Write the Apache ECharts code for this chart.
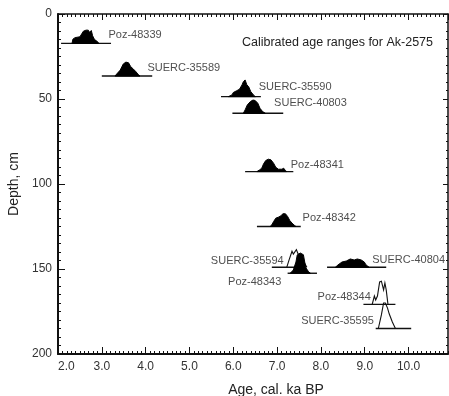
<!DOCTYPE html>
<html>
<head>
<meta charset="utf-8">
<script src="https://cdn.jsdelivr.net/npm/echarts@6/dist/echarts.min.js"></script>
<style>html,body{margin:0;padding:0;background:#fff}#c{width:449px;height:396px}</style>
</head>
<body>
<div id="c"></div>
<script>
// ---- data ----
const sampleNames = ['Poz-48339','SUERC-35589','SUERC-35590','SUERC-40803','Poz-48341','Poz-48342','SUERC-35594','Poz-48343','SUERC-40804','Poz-48344','SUERC-35595'];
const sampleDepths = [17.3, 36.5, 48.6, 58.4, 92.7, 125.0, 149.0, 152.5, 149.0, 170.8, 185.0];
const rangeStart = [2.07, 3.00, 5.72, 5.98, 6.27, 6.54, 6.88, 7.24, 8.14, 8.97, 9.25];
const rangeEnd   = [3.21, 4.15, 6.63, 7.14, 7.37, 7.54, 7.60, 7.91, 9.49, 9.70, 10.06];
const distAges = [
  [2.32,2.34,2.39,2.50,2.58,2.64,2.69,2.72,2.76,2.79,2.83,2.91,2.93],
  [3.30,3.34,3.42,3.49,3.55,3.61,3.66,3.72,3.78,3.84,3.87],
  [5.89,5.97,6.00,6.08,6.14,6.20,6.23,6.27,6.31,6.35,6.40,6.46,6.50],
  [6.23,6.27,6.32,6.39,6.45,6.50,6.56,6.61,6.67,6.73],
  [6.54,6.60,6.65,6.69,6.74,6.80,6.86,6.92,6.97,7.03,7.11,7.15,7.19,7.22],
  [6.84,6.88,6.92,6.97,7.03,7.09,7.13,7.19,7.24,7.29,7.34,7.39,7.43],
  [7.22,7.27,7.34,7.37,7.44,7.48,7.54,7.61,7.68],
  [7.30,7.37,7.43,7.46,7.53,7.60,7.63,7.66,7.72,7.76],
  [8.33,8.39,8.48,8.58,8.67,8.76,8.83,8.92,8.99,9.03,9.10],
  [9.17,9.22,9.25,9.29,9.34,9.38,9.43,9.46,9.49,9.53],
  [9.31,9.38,9.43,9.47,9.52,9.56,9.63,9.70]
];
const distHeights = [
  [0,2.5,3.4,3.9,7.2,7.8,7.8,6.5,7.6,4.5,2.4,0.8,0],
  [0,1.2,3.5,7.1,8.2,7.8,5.5,4.1,2.5,0.6,0],
  [0,1.0,2.4,3.5,4.3,6.9,8.8,9.8,6.9,5.9,2.9,1.0,0],
  [0,2.0,4.9,6.9,7.8,7.5,5.9,2.9,1.0,0],
  [0,1.0,2.0,4.5,6.5,7.3,6.9,4.9,2.5,1.4,1.4,2.0,0.6,0],
  [0,1.0,2.9,4.9,5.5,6.3,7.5,7.5,5.9,3.5,2.0,0.8,0],
  [0,4.1,9.4,7.8,10.4,7.8,6.6,3.1,0],
  [0,1.9,6.6,10.8,11.9,10.9,6.6,3.1,0.8,0],
  [0,1.4,3.1,3.7,4.9,4.3,4.9,4.3,3.1,1.4,0],
  [0,4.9,2.6,4.9,13.2,13.6,8.5,12.6,8.5,0],
  [0,8,15,15,12,8.5,3.8,0]
];
const sampleFilled = [true,true,true,true,true,true,false,true,true,false,false];
const xTicks = [2,3,4,5,6,7,8,9,10];
const yTicks = [0,50,100,150,200];
const titleText = 'Calibrated age ranges for Ak-2575';

// ---- layout (label anchors in data coordinates) ----
const labelAnchors = [
  [3.14,12.4,'right'],[4.03,31.6,'right'],[6.57,42.8,'right'],[6.92,52.5,'right'],
  [7.30,88.8,'right'],[7.57,120.2,'right'],[7.16,145.0,'left'],[5.87,157.8,'right'],
  [9.16,144.7,'right'],[9.15,166.6,'left'],[9.22,180.8,'left']
];

const FONT = '"Liberation Sans", Arial, Helvetica, sans-serif';
const chart = echarts.init(document.getElementById('c'), null, {renderer:'canvas'});
const X_MAX = 10.9;

function xAx(extra){
  return Object.assign({
    type:'value', min:xTicks[0], max:X_MAX, interval:1,
    splitLine:{show:false}, minorSplitLine:{show:false}, minorTick:{show:false}
  }, extra);
}
function yAx(extra){
  return Object.assign({
    type:'value', inverse:true, min:yTicks[0], max:yTicks[yTicks.length-1], interval:50,
    splitLine:{show:false}, minorSplitLine:{show:false}, minorTick:{show:false}
  }, extra);
}
const minorX = (pos, len) => xAx({
  position:pos, interval:0.1,
  axisLine:{show:false, onZero:false},
  axisTick:{show:true, inside:true, length:len, lineStyle:{color:'#111', width:1}},
  axisLabel:{show:false}
});
const minorY = (pos, len) => yAx({
  position:pos, interval:5,
  axisLine:{show:false, onZero:false},
  axisTick:{show:true, inside:true, length:len, lineStyle:{color:'#111', width:1}},
  axisLabel:{show:false}
});

const option = {
  animation:false,
  backgroundColor:'#fff',
  textStyle:{fontFamily:FONT},
  title:{
    text:titleText, right:11, top:31,
    textStyle:{fontSize:12.5, fontWeight:'normal', color:'#222', fontFamily:FONT}
  },
  grid:{left:58, top:14, right:1, bottom:42, containLabel:false, outerBoundsMode:'none'},
  xAxis:[
    xAx({
      position:'bottom', name:'Age, cal. ka BP', nameLocation:'middle', nameGap:29,
      nameTextStyle:{fontSize:14, color:'#222', fontFamily:FONT, padding:[0,0,0,46]},
      axisLine:{show:true, onZero:false, lineStyle:{color:'#111', width:2}},
      axisTick:{show:true, inside:true, length:7, lineStyle:{color:'#111', width:1}},
      axisLabel:{show:true, fontSize:12, color:'#333', margin:7, fontFamily:FONT,
        showMaxLabel:false, alignMinLabel:'left',
        formatter:v => (Math.abs(v - Math.round(v)) < 1e-6 ? v.toFixed(1) : '')}
    }),
    xAx({
      position:'top',
      axisLine:{show:true, onZero:false, lineStyle:{color:'#111', width:1.5}},
      axisTick:{show:true, inside:true, length:6, lineStyle:{color:'#111', width:1}},
      axisLabel:{show:false}
    }),
    minorX('bottom', 3),
    minorX('top', 3)
  ],
  yAxis:[
    yAx({
      position:'left', name:'Depth, cm', nameLocation:'middle', nameGap:30,
      nameTextStyle:{fontSize:14, color:'#222', fontFamily:FONT},
      axisLine:{show:true, onZero:false, lineStyle:{color:'#111', width:2}},
      axisTick:{show:true, inside:true, length:7, lineStyle:{color:'#111', width:1}},
      axisLabel:{show:true, fontSize:12, color:'#333', margin:6, fontFamily:FONT}
    }),
    yAx({
      position:'right',
      axisLine:{show:true, onZero:false, lineStyle:{color:'#111', width:1.5}},
      axisTick:{show:true, inside:true, length:5, lineStyle:{color:'#111', width:1}},
      axisLabel:{show:false}
    }),
    minorY('left', 3),
    minorY('right', 2)
  ],
  series:[
    {
      type:'custom',
      xAxisIndex:0, yAxisIndex:0,
      encode:{x:[0,2], y:1},
      data: sampleNames.map((n,i) => ({name:n, value:[rangeStart[i], sampleDepths[i], rangeEnd[i]]})),
      renderItem:function(params, api){
        const i = params.dataIndex;
        const d = sampleDepths[i];
        const a = api.coord([rangeStart[i], d]);
        const b = api.coord([rangeEnd[i], d]);
        const pts = distAges[i].map((age,k) => api.coord([age, d - distHeights[i][k]]));
        const children = [{
          type:'line',
          shape:{x1:a[0], y1:a[1], x2:b[0], y2:b[1]},
          style:{stroke:'#111', lineWidth:1.4}
        }];
        if (sampleFilled[i]) {
          children.push({type:'polygon', shape:{points:pts}, style:{fill:'#000', stroke:'#000', lineWidth:1}});
        } else {
          children.push({type:'polyline', shape:{points:pts}, style:{fill:null, stroke:'#111', lineWidth:1.1}});
        }
        return {type:'group', children:children};
      }
    },
    {
      type:'scatter',
      xAxisIndex:0, yAxisIndex:0,
      symbolSize:1,
      itemStyle:{color:'rgba(0,0,0,0)'},
      silent:true,
      data: sampleNames.map((n,i) => ({
        name:n, value:[labelAnchors[i][0], labelAnchors[i][1]],
        label:{show:true, position:labelAnchors[i][2], distance:0, formatter:n,
          fontSize:11, color:'#222', fontFamily:FONT}
      }))
    }
  ]
};
chart.setOption(option);
</script>
</body>
</html>
